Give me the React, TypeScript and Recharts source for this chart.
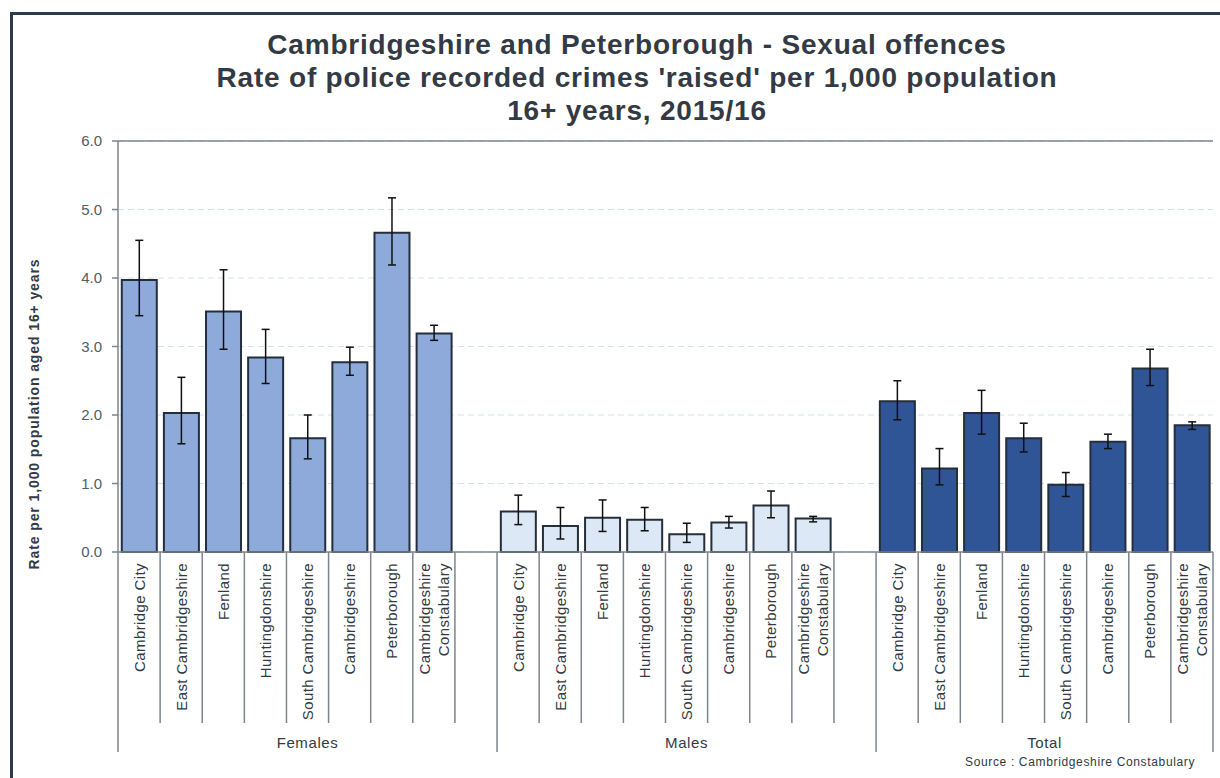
import { BarChart, Bar, XAxis, YAxis, CartesianGrid, ReferenceLine, ErrorBar, Cell } from 'recharts'

const categories = [
    'Cambridge City',
    'East Cambridgeshire',
    'Fenland',
    'Huntingdonshire',
    'South Cambridgeshire',
    'Cambridgeshire',
    'Peterborough',
    'Cambridgeshire Constabulary',
]

const groups = ['Females', 'Males', 'Total']

// rate per 1,000 and 95% confidence limits
const femaleRate = [3.97, 2.03, 3.51, 2.84, 1.66, 2.77, 4.66, 3.19]
const femaleLower = [3.45, 1.58, 2.96, 2.46, 1.36, 2.58, 4.19, 3.09]
const femaleUpper = [4.55, 2.55, 4.12, 3.25, 2.0, 2.99, 5.17, 3.31]

const maleRate = [0.59, 0.38, 0.5, 0.47, 0.26, 0.43, 0.68, 0.49]
const maleLower = [0.4, 0.19, 0.3, 0.31, 0.14, 0.35, 0.5, 0.44]
const maleUpper = [0.83, 0.65, 0.76, 0.65, 0.42, 0.52, 0.89, 0.52]

const totalRate = [2.2, 1.22, 2.03, 1.66, 0.98, 1.61, 2.68, 1.85]
const totalLower = [1.93, 0.98, 1.72, 1.46, 0.81, 1.51, 2.43, 1.79]
const totalUpper = [2.5, 1.51, 2.36, 1.88, 1.16, 1.72, 2.96, 1.9]

const yTicks = [0, 1, 2, 3, 4, 5, 6]

const GROUP_COLORS = ['#8eaadb', '#dce8f5', '#2f5597']
const FONT = '"Liberation Sans", Arial, sans-serif'
const AXIS_GREY = '#7d848e'
const TEXT = '#333a44'

const CHART_W = 1220
const CHART_H = 778
const MARGIN = { top: 141, right: 7, left: 58, bottom: 6 }
const Y_AXIS_W = 60
const PLOT_W = CHART_W - MARGIN.left - MARGIN.right - Y_AXIS_W

interface Row {
    key: string
    name: string
    group: number
    first: boolean
    span: number
    value: number | null
    err: [number, number] | null
}

const series = [
    { rate: femaleRate, lower: femaleLower, upper: femaleUpper },
    { rate: maleRate, lower: maleLower, upper: maleUpper },
    { rate: totalRate, lower: totalLower, upper: totalUpper },
]

const rows: Row[] = []
series.forEach((s, g) => {
    const span = g < series.length - 1 ? categories.length + 1 : categories.length
    categories.forEach((name, i) => {
        rows.push({
            key: `${g}-${i}`,
            name,
            group: g,
            first: i === 0,
            span,
            value: s.rate[i],
            err: [+(s.rate[i] - s.lower[i]).toFixed(2), +(s.upper[i] - s.rate[i]).toFixed(2)],
        })
    })
    // empty slot between groups
    if (g < series.length - 1) {
        rows.push({ key: `${g}-gap`, name: '', group: g, first: false, span, value: null, err: null })
    }
})

const SLOT = PLOT_W / rows.length

const CategoryTick = ({ x, y, index }: any) => {
    const row = rows[index]
    if (!row) return null
    const left = x - SLOT / 2
    const lines = row.name === 'Cambridgeshire Constabulary' ? ['Cambridgeshire', 'Constabulary'] : [row.name]
    const isLast = index === rows.length - 1
    return (
        <g>
            <line x1={left} x2={left} y1={y} y2={y + (row.first ? 200 : 171)} stroke={AXIS_GREY} strokeWidth={1.5} />
            {isLast && (
                <line x1={x + SLOT / 2} x2={x + SLOT / 2} y1={y} y2={y + 200} stroke={AXIS_GREY} strokeWidth={1.5} />
            )}
            {lines.map((t, k) => {
                const cx = x + (k - (lines.length - 1) / 2) * 19.5
                return (
                    <text
                        key={k}
                        x={cx}
                        y={y + 11}
                        transform={`rotate(-90, ${cx}, ${y + 11})`}
                        textAnchor="end"
                        dominantBaseline="central"
                        fontFamily={FONT}
                        fontSize={15}
                        letterSpacing={0.4}
                        fill={TEXT}
                    >
                        {t}
                    </text>
                )
            })}
            {row.first && (
                <text
                    x={left + (row.span * SLOT) / 2}
                    y={y + 190}
                    textAnchor="middle"
                    dominantBaseline="central"
                    fontFamily={FONT}
                    fontSize={15}
                    letterSpacing={0.6}
                    fill={TEXT}
                >
                    {groups[row.group]}
                </text>
            )}
        </g>
    )
}

export default function App() {
    return (
        <div style={{ position: 'fixed', inset: 0, overflow: 'hidden', background: '#fff', fontFamily: FONT }}>
            {/* dark frame, only top and left edges show */}
            <div
                style={{
                    position: 'absolute',
                    left: 10,
                    top: 12,
                    width: 1400,
                    height: 1000,
                    border: '3px solid #2e3a4c',
                }}
            />
            <div
                style={{
                    position: 'absolute',
                    left: 0,
                    top: 28,
                    width: 1274,
                    textAlign: 'center',
                    fontSize: 28,
                    fontWeight: 'bold',
                    letterSpacing: 0.8,
                    lineHeight: '33px',
                    color: TEXT,
                }}
            >
                <div>Cambridgeshire and Peterborough - Sexual offences</div>
                <div>Rate of police recorded crimes 'raised' per 1,000 population</div>
                <div>16+ years, 2015/16</div>
            </div>
            <div
                style={{
                    position: 'absolute',
                    left: 34,
                    top: 414,
                    transform: 'translate(-50%, -50%) rotate(-90deg)',
                    whiteSpace: 'nowrap',
                    fontSize: 14,
                    fontWeight: 'bold',
                    letterSpacing: 0.9,
                    color: TEXT,
                }}
            >
                Rate per 1,000 population aged 16+ years
            </div>
            <div
                style={{
                    position: 'absolute',
                    left: 965,
                    top: 755,
                    whiteSpace: 'nowrap',
                    fontSize: 12,
                    letterSpacing: 0.65,
                    color: TEXT,
                }}
            >
                Source : Cambridgeshire Constabulary
            </div>
            <div style={{ position: 'absolute', left: 0, top: 0 }}>
                <BarChart width={CHART_W} height={CHART_H} data={rows} margin={MARGIN} barCategoryGap="9%">
                    <CartesianGrid vertical={false} stroke="#d3e0ef" strokeDasharray="6 4" />
                    <XAxis
                        dataKey="key"
                        interval={0}
                        tickLine={false}
                        tickSize={0}
                        tickMargin={0}
                        height={220}
                        axisLine={{ stroke: AXIS_GREY, strokeWidth: 1.5 }}
                        tick={<CategoryTick />}
                    />
                    <YAxis
                        width={Y_AXIS_W}
                        domain={[0, 6]}
                        ticks={yTicks}
                        tickFormatter={(v: number) => v.toFixed(1)}
                        tickSize={6}
                        tickMargin={10}
                        tick={{ fill: '#555b63', fontSize: 15, fontFamily: FONT }}
                        tickLine={{ stroke: AXIS_GREY, strokeWidth: 1.5 }}
                        axisLine={{ stroke: AXIS_GREY, strokeWidth: 1.5 }}
                    />
                    <YAxis
                        yAxisId="frame"
                        orientation="right"
                        width={0}
                        tick={false}
                        tickLine={false}
                        axisLine={{ stroke: AXIS_GREY, strokeWidth: 1.5 }}
                    />
                    <ReferenceLine y={6} stroke={AXIS_GREY} strokeWidth={1.5} />
                    <Bar dataKey="value" isAnimationActive={false} stroke="#252e3b" strokeWidth={2}>
                        {rows.map((r) => (
                            <Cell
                                key={r.key}
                                fill={r.value == null ? 'none' : GROUP_COLORS[r.group]}
                                stroke={r.value == null ? 'none' : '#252e3b'}
                            />
                        ))}
                        <ErrorBar dataKey="err" width={4} stroke="#111" strokeWidth={1.5} />
                    </Bar>
                </BarChart>
            </div>
        </div>
    )
}
